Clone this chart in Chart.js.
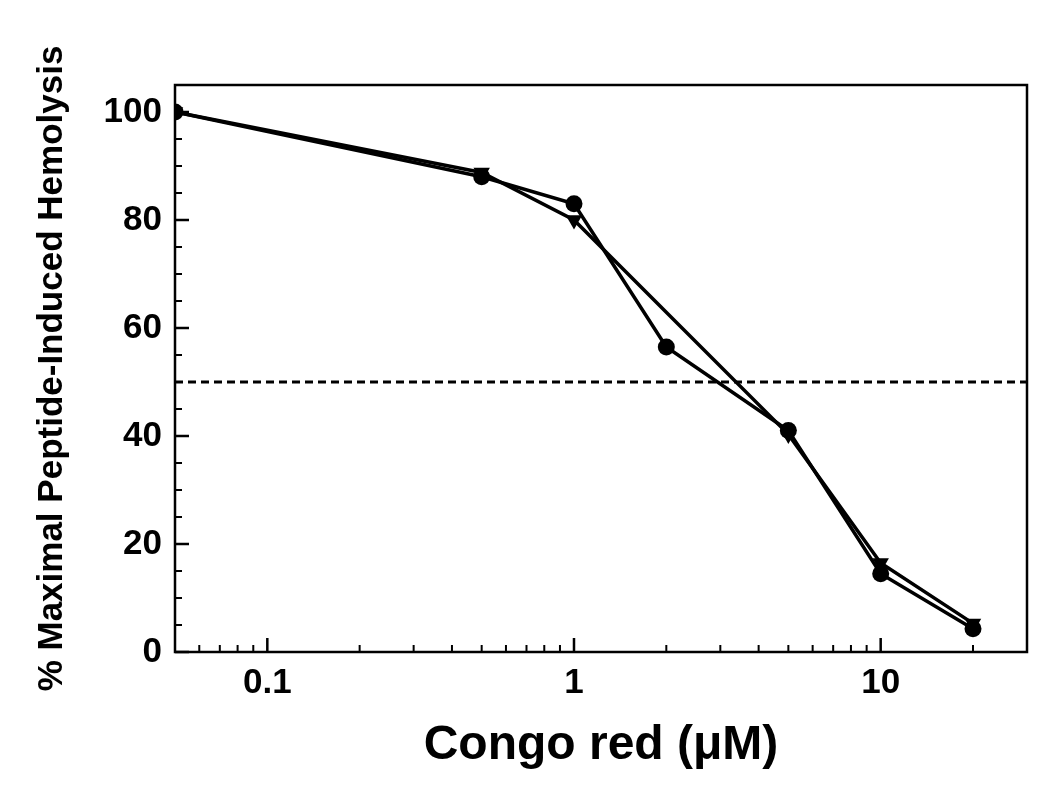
<!DOCTYPE html>
<html>
<head>
<meta charset="utf-8">
<script src="https://cdn.jsdelivr.net/npm/chart.js@4.4.0/dist/chart.umd.min.js"></script>
<style>
  html, body { margin: 0; padding: 0; background: #fff; }
  #wrap { width: 1050px; height: 789px; }
</style>
</head>
<body>
<div id="wrap"><canvas id="c" width="1050" height="789"></canvas></div>
<script>
const concCircles = [0.05, 0.5, 1, 2, 5, 10, 20];
const hemolysisCircles = [100, 88, 83, 56.5, 41, 14.5, 4.3];
const concTriangles = [0.05, 0.5, 1, 5, 10, 20];
const hemolysisTriangles = [100, 88.8, 80, 40.3, 16.5, 5.3];
const thresholdX = [0.05, 30];
const thresholdY = [50, 50];
const xTickLabels = [0.1, 1, 10];
const xMinorTicks = [0.06, 0.07, 0.08, 0.09, 0.2, 0.3, 0.4, 0.5, 0.6, 0.7, 0.8, 0.9, 2, 3, 4, 5, 6, 7, 8, 9, 20];
const yTickLabels = [0, 20, 40, 60, 80, 100];
const yMinorTicks = [5, 10, 15, 25, 30, 35, 45, 50, 55, 65, 70, 75, 85, 90, 95, 105];

const FONT = "'Liberation Sans', Arial, sans-serif";

const toXY = (xs, ys) => xs.map((x, i) => ({ x: x, y: ys[i] }));

const innerTicks = {
  id: 'innerTicks',
  afterDraw(chart) {
    const { ctx, chartArea: a, scales: { x, y } } = chart;
    ctx.save();
    ctx.strokeStyle = '#000';
    ctx.lineWidth = 2.5;
    ctx.beginPath();
    xTickLabels.forEach(v => { const px = x.getPixelForValue(v); ctx.moveTo(px, a.bottom); ctx.lineTo(px, a.bottom - 14); });
    yTickLabels.forEach(v => { const py = y.getPixelForValue(v); ctx.moveTo(a.left, py); ctx.lineTo(a.left + 14, py); });
    ctx.stroke();
    ctx.lineWidth = 2;
    ctx.beginPath();
    xMinorTicks.forEach(v => { const px = x.getPixelForValue(v); ctx.moveTo(px, a.bottom); ctx.lineTo(px, a.bottom - 7); });
    yMinorTicks.forEach(v => { const py = y.getPixelForValue(v); ctx.moveTo(a.left, py); ctx.lineTo(a.left + 7, py); });
    ctx.stroke();
    ctx.lineWidth = 2.5;
    ctx.strokeRect(a.left, a.top, a.right - a.left, a.bottom - a.top);
    ctx.restore();
  }
};

new Chart(document.getElementById('c'), {
  type: 'scatter',
  data: {
    datasets: [
      {
        label: 'circles',
        data: toXY(concCircles, hemolysisCircles),
        showLine: true,
        borderColor: '#000',
        backgroundColor: '#000',
        borderWidth: 3.5,
        pointStyle: 'circle',
        pointRadius: 8.5,
        pointBorderWidth: 0,
        order: 1
      },
      {
        label: 'triangles',
        data: toXY(concTriangles, hemolysisTriangles),
        showLine: true,
        borderColor: '#000',
        backgroundColor: '#000',
        borderWidth: 3.5,
        pointStyle: 'triangle',
        rotation: 180,
        pointRadius: 9.5,
        pointBorderWidth: 0,
        order: 2
      },
      {
        label: 'threshold',
        data: toXY(thresholdX, thresholdY),
        showLine: true,
        borderColor: '#000',
        borderWidth: 3,
        borderDash: [8, 5],
        pointRadius: 0,
        order: 3
      }
    ]
  },
  options: {
    responsive: false,
    animation: false,
    devicePixelRatio: 1,
    layout: { padding: { left: 0, right: 23, top: 85, bottom: 0 } },
    plugins: { legend: { display: false }, tooltip: { enabled: false } },
    scales: {
      x: {
        type: 'logarithmic',
        min: 0.05,
        max: 30,
        afterBuildTicks: s => { s.ticks = xTickLabels.map(v => ({ value: v })); },
        afterFit: s => { s.height = 137; },
        grid: { display: false, drawTicks: false },
        border: { display: false },
        ticks: {
          color: '#000',
          font: { family: FONT, size: 35, weight: 'bold' },
          padding: 10,
          maxRotation: 0,
          callback: v => String(v)
        },
        title: {
          display: true,
          text: 'Congo red (\u03bcM)',
          color: '#000',
          font: { family: FONT, size: 48, weight: 'bold' },
          padding: { top: 0, bottom: 14 }
        }
      },
      y: {
        type: 'linear',
        min: 0,
        max: 105,
        afterBuildTicks: s => { s.ticks = yTickLabels.map(v => ({ value: v })); },
        afterFit: s => { s.width = 175; },
        grid: { display: false, drawTicks: false },
        border: { display: false },
        ticks: {
          color: '#000',
          font: { family: FONT, size: 35, weight: 'bold' },
          padding: 13
        },
        title: {
          display: true,
          text: '% Maximal Peptide-Induced Hemolysis',
          color: '#000',
          font: { family: FONT, size: 35, weight: 'bold' },
          padding: { top: 31, bottom: 0 }
        }
      }
    }
  },
  plugins: [innerTicks]
});
</script>
</body>
</html>
